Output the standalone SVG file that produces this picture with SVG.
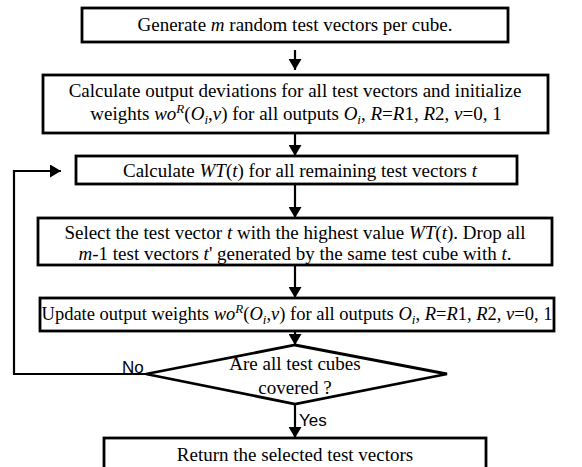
<svg xmlns="http://www.w3.org/2000/svg" width="582" height="467" viewBox="0 0 582 467">
<defs>
<marker id="ah" markerUnits="userSpaceOnUse" markerWidth="14" markerHeight="13" refX="11" refY="6.5" orient="auto">
<path d="M0,0 L11,6.5 L0,13 Z" fill="#000"/>
</marker>
</defs>
<style>
.box{fill:#fff;stroke:#000;stroke-width:2.8}
.t{font-family:"Liberation Serif","Times New Roman",serif;font-size:19px;fill:#000;text-anchor:middle}
.i{font-style:italic}
.sup{font-style:italic;font-size:13px}
.lbl{font-family:"Liberation Sans",Arial,sans-serif;font-size:17px;fill:#000}
.c{fill:none;stroke:#000;stroke-width:2.2}
</style>
<rect width="582" height="467" fill="#fff"/>
<g id="connectors">
<line class="c" x1="295" y1="50" x2="295" y2="70" marker-end="url(#ah)"/>
<line class="c" x1="295" y1="133" x2="295" y2="156" marker-end="url(#ah)"/>
<line class="c" x1="295" y1="184" x2="295" y2="218" marker-end="url(#ah)"/>
<line class="c" x1="295" y1="265" x2="295" y2="298" marker-end="url(#ah)"/>
<line class="c" x1="295" y1="331" x2="295" y2="345" marker-end="url(#ah)"/>
<line class="c" x1="295" y1="404" x2="295" y2="438" marker-end="url(#ah)"/>
<polyline class="c" points="146,374 14,374 14,171 61,171" marker-end="url(#ah)"/>
</g>
<g id="n1">
<rect class="box" x="82" y="8" width="426" height="34"/>
<text class="t" x="295" y="31">Generate <tspan class="i">m</tspan> random test vectors per cube.</text>
</g>
<g id="n2">
<rect class="box" x="43" y="75" width="505" height="58"/>
<text class="t" x="295" y="97">Calculate output deviations for all test vectors and initialize</text>
<text class="t" x="296" y="120">weights <tspan class="i">wo</tspan><tspan class="sup" dy="-7">R</tspan><tspan dy="7">(</tspan><tspan class="i">O</tspan><tspan class="sup" dy="4">i</tspan><tspan dy="-4">,</tspan><tspan class="i">v</tspan>) for all outputs <tspan class="i">O</tspan><tspan class="sup" dy="4">i</tspan><tspan dy="-4">, </tspan><tspan class="i">R</tspan>=<tspan class="i">R</tspan>1, <tspan class="i">R</tspan>2, <tspan class="i">v</tspan>=0, 1</text>
</g>
<g id="n3">
<rect class="box" x="76" y="156" width="441" height="28"/>
<text class="t" x="300" y="177">Calculate <tspan class="i">WT</tspan>(<tspan class="i">t</tspan>) for all remaining test vectors <tspan class="i">t</tspan></text>
</g>
<g id="n4">
<rect class="box" x="38" y="218" width="514" height="47"/>
<text class="t" x="295" y="239">Select the test vector <tspan class="i">t</tspan> with the highest value <tspan class="i">WT</tspan>(<tspan class="i">t</tspan>). Drop all</text>
<text class="t" x="295" y="260"><tspan class="i">m</tspan>-1 test vectors <tspan class="i">t</tspan>' generated by the same test cube with <tspan class="i">t</tspan>.</text>
</g>
<g id="n5">
<rect class="box" x="40" y="298" width="514" height="33"/>
<text class="t" x="297" y="320" style="font-size:18.5px">Update output weights <tspan class="i">wo</tspan><tspan class="sup" dy="-7">R</tspan><tspan dy="7">(</tspan><tspan class="i">O</tspan><tspan class="sup" dy="4">i</tspan><tspan dy="-4">,</tspan><tspan class="i">v</tspan>) for all outputs <tspan class="i">O</tspan><tspan class="sup" dy="4">i</tspan><tspan dy="-4">, </tspan><tspan class="i">R</tspan>=<tspan class="i">R</tspan>1, <tspan class="i">R</tspan>2, <tspan class="i">v</tspan>=0, 1</text>
</g>
<g id="n6">
<polygon class="box" points="295,345 447,374 295,404 146,374"/>
<text class="t" x="295" y="370">Are all test cubes</text>
<text class="t" x="295" y="394">covered ?</text>
</g>
<g id="n7">
<rect class="box" x="104" y="438" width="382" height="42"/>
<text class="t" x="295" y="461">Return the selected test vectors</text>
</g>
<g id="labels">
<text class="lbl" x="122" y="373">No</text>
<text class="lbl" x="299" y="426">Yes</text>
</g>
</svg>
